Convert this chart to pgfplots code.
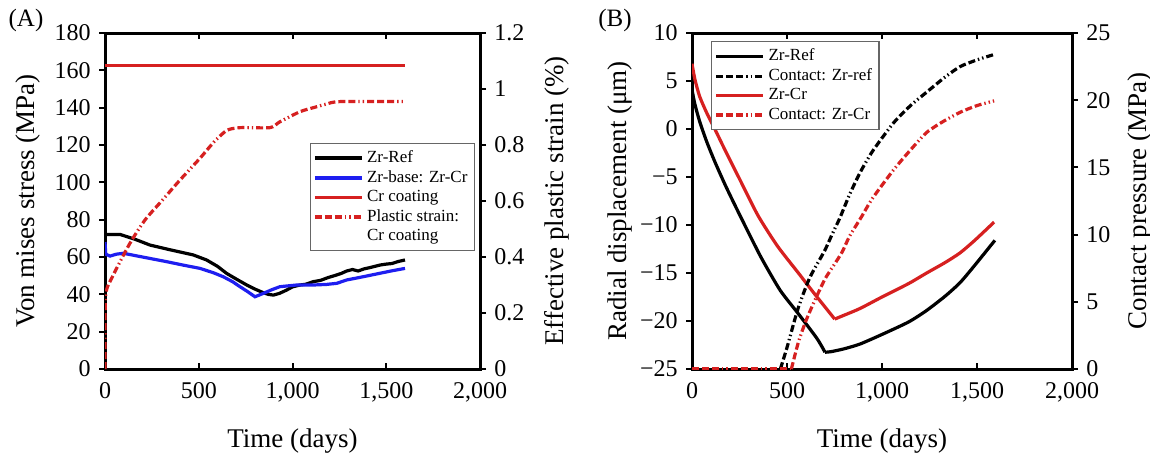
\documentclass[border=0pt]{standalone}
\usepackage{fontspec}
\setmainfont{Liberation Serif}
\usepackage{pgfplots}
\pgfplotsset{compat=1.18}

\definecolor{cred}{RGB}{214,32,32}
\definecolor{cblue}{RGB}{30,30,240}
\tikzset{ddot/.style={dash pattern=on 3.5pt off 1.5pt on 3.5pt off 1.5pt on 3.5pt off 1.5pt on 0.7pt off 1.5pt on 0.7pt off 1.5pt}}

\pgfplotsset{
  panel/.style={
    scale only axis,
    xmin=0, xmax=2000, xtick={0,500,1000,1500,2000},
    /pgf/number format/assume math mode=true,
    /pgf/number format/1000 sep={,},
    /pgf/number format/fixed,
    tick label style={font=\fontsize{12}{14}\selectfont, inner sep=1pt},
    xticklabel style={yshift=-5.5pt},
    label style={font=\fontsize{13.5}{15}\selectfont},
    axis line style={line width=1.5pt},
    major tick length=3pt,
    tick style={black, line width=1pt},
    xtick align=inside, ytick align=outside,
    xlabel style={at={(axis description cs:0.5,-0.215)}, anchor=center},
    legend image code/.code={\draw[##1] (0cm,0cm) -- (0.82cm,0cm);},
    legend cell align=left,
  },
  lefty/.style={yticklabel style={xshift=-3pt}},
  righty/.style={yticklabel style={xshift=3pt}},
  leg/.style={
    draw=black!60, line width=0.7pt, fill=white,
    font=\fontsize{8.5}{9.5}\selectfont,
    row sep=-1.5pt, inner sep=1.5pt,
  },
  ln/.style={line width=1.6pt},
}

\begin{document}
\begin{tikzpicture}
\path[use as bounding box] (0,0) rectangle (575pt,228.5pt);

\node[font=\fontsize{12.5}{14}\selectfont] at (13pt,218.5pt) {(A)};
\node[font=\fontsize{12.5}{14}\selectfont] at (307.5pt,218.5pt) {(B)};

% ---------- panel A, left axis
\begin{axis}[panel, lefty, at={(52.5pt,44pt)}, width=187.5pt, height=168pt,
  ymin=0, ymax=180, ytick={0,20,...,180}, ytick pos=left,
  xlabel={Time (days)}, ylabel={Von mises stress (MPa)},
  ylabel style={at={(axis description cs:-0.205,0.5)}, anchor=center}]
\addplot[black, ln] coordinates {
  (0,72.1)(80,72.1)(160,69.5)(240,66.4)(350,63.8)(471,61.1)(542,58.4)(600,55)
  (649,51.2)(700,48.2)(756,45)(800,42.8)(844,40.9)(870,40)(898,39.6)(930,40.5)
  (969,42.3)(1000,44)(1040,45)(1070,45.4)(1111,46.8)(1150,47.5)(1190,49)
  (1230,50.2)(1260,51.2)(1289,52.5)(1320,53.3)(1350,52.5)(1380,53.6)(1420,54.5)
  (1467,55.7)(1500,56.2)(1530,56.5)(1564,57.6)(1600,58.4)};
\addplot[cblue, ln] coordinates {
  (0,68)(4,61.5)(27,60.5)(60,61.5)(98,62)(200,60)(329,57.5)(420,55.6)(507,53.9)
  (580,51.5)(631,49.4)(680,46.8)(720,44.1)(760,41.5)(800,38.7)(844,40.5)
  (890,42.5)(933,44.1)(1022,45)(1111,45)(1180,45.3)(1236,45.9)(1289,47.7)
  (1380,49.5)(1467,51.3)(1530,52.6)(1600,53.9)};
\addplot[cred, ln] coordinates {(0,162.8)(1600,162.8)};
\end{axis}

% ---------- panel A, right axis
\begin{axis}[panel, righty, at={(52.5pt,44pt)}, width=187.5pt, height=168pt,
  axis y line*=right, axis x line=none,
  ymin=0, ymax=1.2, ytick={0,0.2,0.4,0.6,0.8,1,1.2},
  ylabel={Effective plastic strain (\%)},
  ylabel style={at={(axis description cs:1.205,0.5)}, anchor=center},
  legend style={leg, at={(axis description cs:0.987,0.673)}, anchor=north east}]
\addlegendimage{black, ln}\addlegendentry{Zr-Ref}
\addlegendimage{cblue, ln}\addlegendentry{Zr-base: Zr-Cr}
\addlegendimage{cred, ln}\addlegendentry{Cr coating}
\addplot[cred, ln, ddot, smooth, tension=0.4] coordinates {
  (0,0)(3,0.26)(40,0.33)(133,0.449)(213,0.532)(302,0.60)(400,0.675)(507,0.753)
  (580,0.81)(649,0.852)(720,0.862)(880,0.862)(933,0.883)(1040,0.919)(1120,0.935)
  (1180,0.946)(1253,0.955)(1600,0.955)};
\addlegendentry{Plastic strain:}
\addlegendimage{empty legend}\addlegendentry{Cr coating}
\end{axis}

% ---------- panel B, left axis
\begin{axis}[panel, lefty, at={(346pt,44pt)}, width=190pt, height=168pt,
  ymin=-25, ymax=10, ytick={-25,-20,-15,-10,-5,0,5,10},
  yticklabels={−25,−20,−15,−10,−5,0,5,10}, ytick pos=left,
  xlabel={Time (days)}, ylabel={Radial displacement (μm)},
  ylabel style={at={(axis description cs:-0.19,0.5)}, anchor=center}]
\addplot[black, ln, smooth, tension=0.4] coordinates {
  (0,4.1)(15,2.6)(40,0.8)(77,-1.3)(120,-3.4)(174,-5.8)(230,-8.1)(295,-10.7)
  (367,-13.5)(464,-16.8)(558,-19.2)(657,-21.8)(700,-23.25)};
\addplot[black, ln, smooth, tension=0.4] coordinates {
  (700,-23.25)(730,-23.2)(800,-22.9)
  (884,-22.4)(1000,-21.4)(1140,-20.1)(1235,-18.9)(1333,-17.4)(1411,-16.0)
  (1488,-14.2)(1594,-11.6)};
\addplot[cred, ln, smooth, tension=0.4] coordinates {
  (0,6.8)(15,5.2)(40,3.4)(77,1.7)(120,0.0)(174,-2.2)(250,-5.2)(347,-9.0)
  (450,-12.2)(560,-15.0)(650,-17.3)(751,-19.8)};
\addplot[cred, ln, smooth, tension=0.4] coordinates {
  (751,-19.8)(800,-19.4)(884,-18.7)(1000,-17.5)
  (1140,-16.1)(1235,-15.0)(1333,-13.9)(1411,-12.9)(1488,-11.6)(1590,-9.7)};
\end{axis}

% ---------- panel B, right axis
\begin{axis}[panel, righty, at={(346pt,44pt)}, width=190pt, height=168pt,
  axis y line*=right, axis x line=none,
  ymin=0, ymax=25, ytick={0,5,10,15,20,25},
  ylabel={Contact pressure (MPa)},
  ylabel style={at={(axis description cs:1.179,0.5)}, anchor=center},
  legend style={leg, at={(axis description cs:0.05,0.976)}, anchor=north west}]
\addlegendimage{black, ln}\addlegendentry{Zr-Ref}
\addlegendimage{black, ln, ddot}\addlegendentry{Contact: Zr-ref}
\addlegendimage{cred, ln}\addlegendentry{Zr-Cr}
\addlegendimage{cred, ln, ddot}\addlegendentry{Contact: Zr-Cr}
\addplot[black, ln, ddot, forget plot] coordinates {(0,0)(465,0)};
\addplot[black, ln, ddot, smooth, tension=0.4, forget plot] coordinates {
  (465,0)(500,1.6)(558,4.5)(620,6.8)(698,8.8)(740,10.1)(777,11.2)(830,13.0)
  (884,14.6)(950,16.2)(1060,18.3)(1150,19.6)(1235,20.6)(1330,21.7)(1411,22.5)
  (1500,23.0)(1590,23.4)};
\addplot[cred, ln, ddot, forget plot] coordinates {(0,0)(523,0)};
\addplot[cred, ln, ddot, smooth, tension=0.4, forget plot] coordinates {
  (523,0)(560,2.0)(600,3.6)(646,5.1)(700,6.7)(750,7.8)(790,8.7)(830,9.9)
  (891,11.3)(950,12.7)(1060,14.8)(1150,16.3)(1235,17.6)(1320,18.4)(1411,19.1)
  (1500,19.6)(1590,19.95)};
\end{axis}
\end{tikzpicture}
\end{document}
